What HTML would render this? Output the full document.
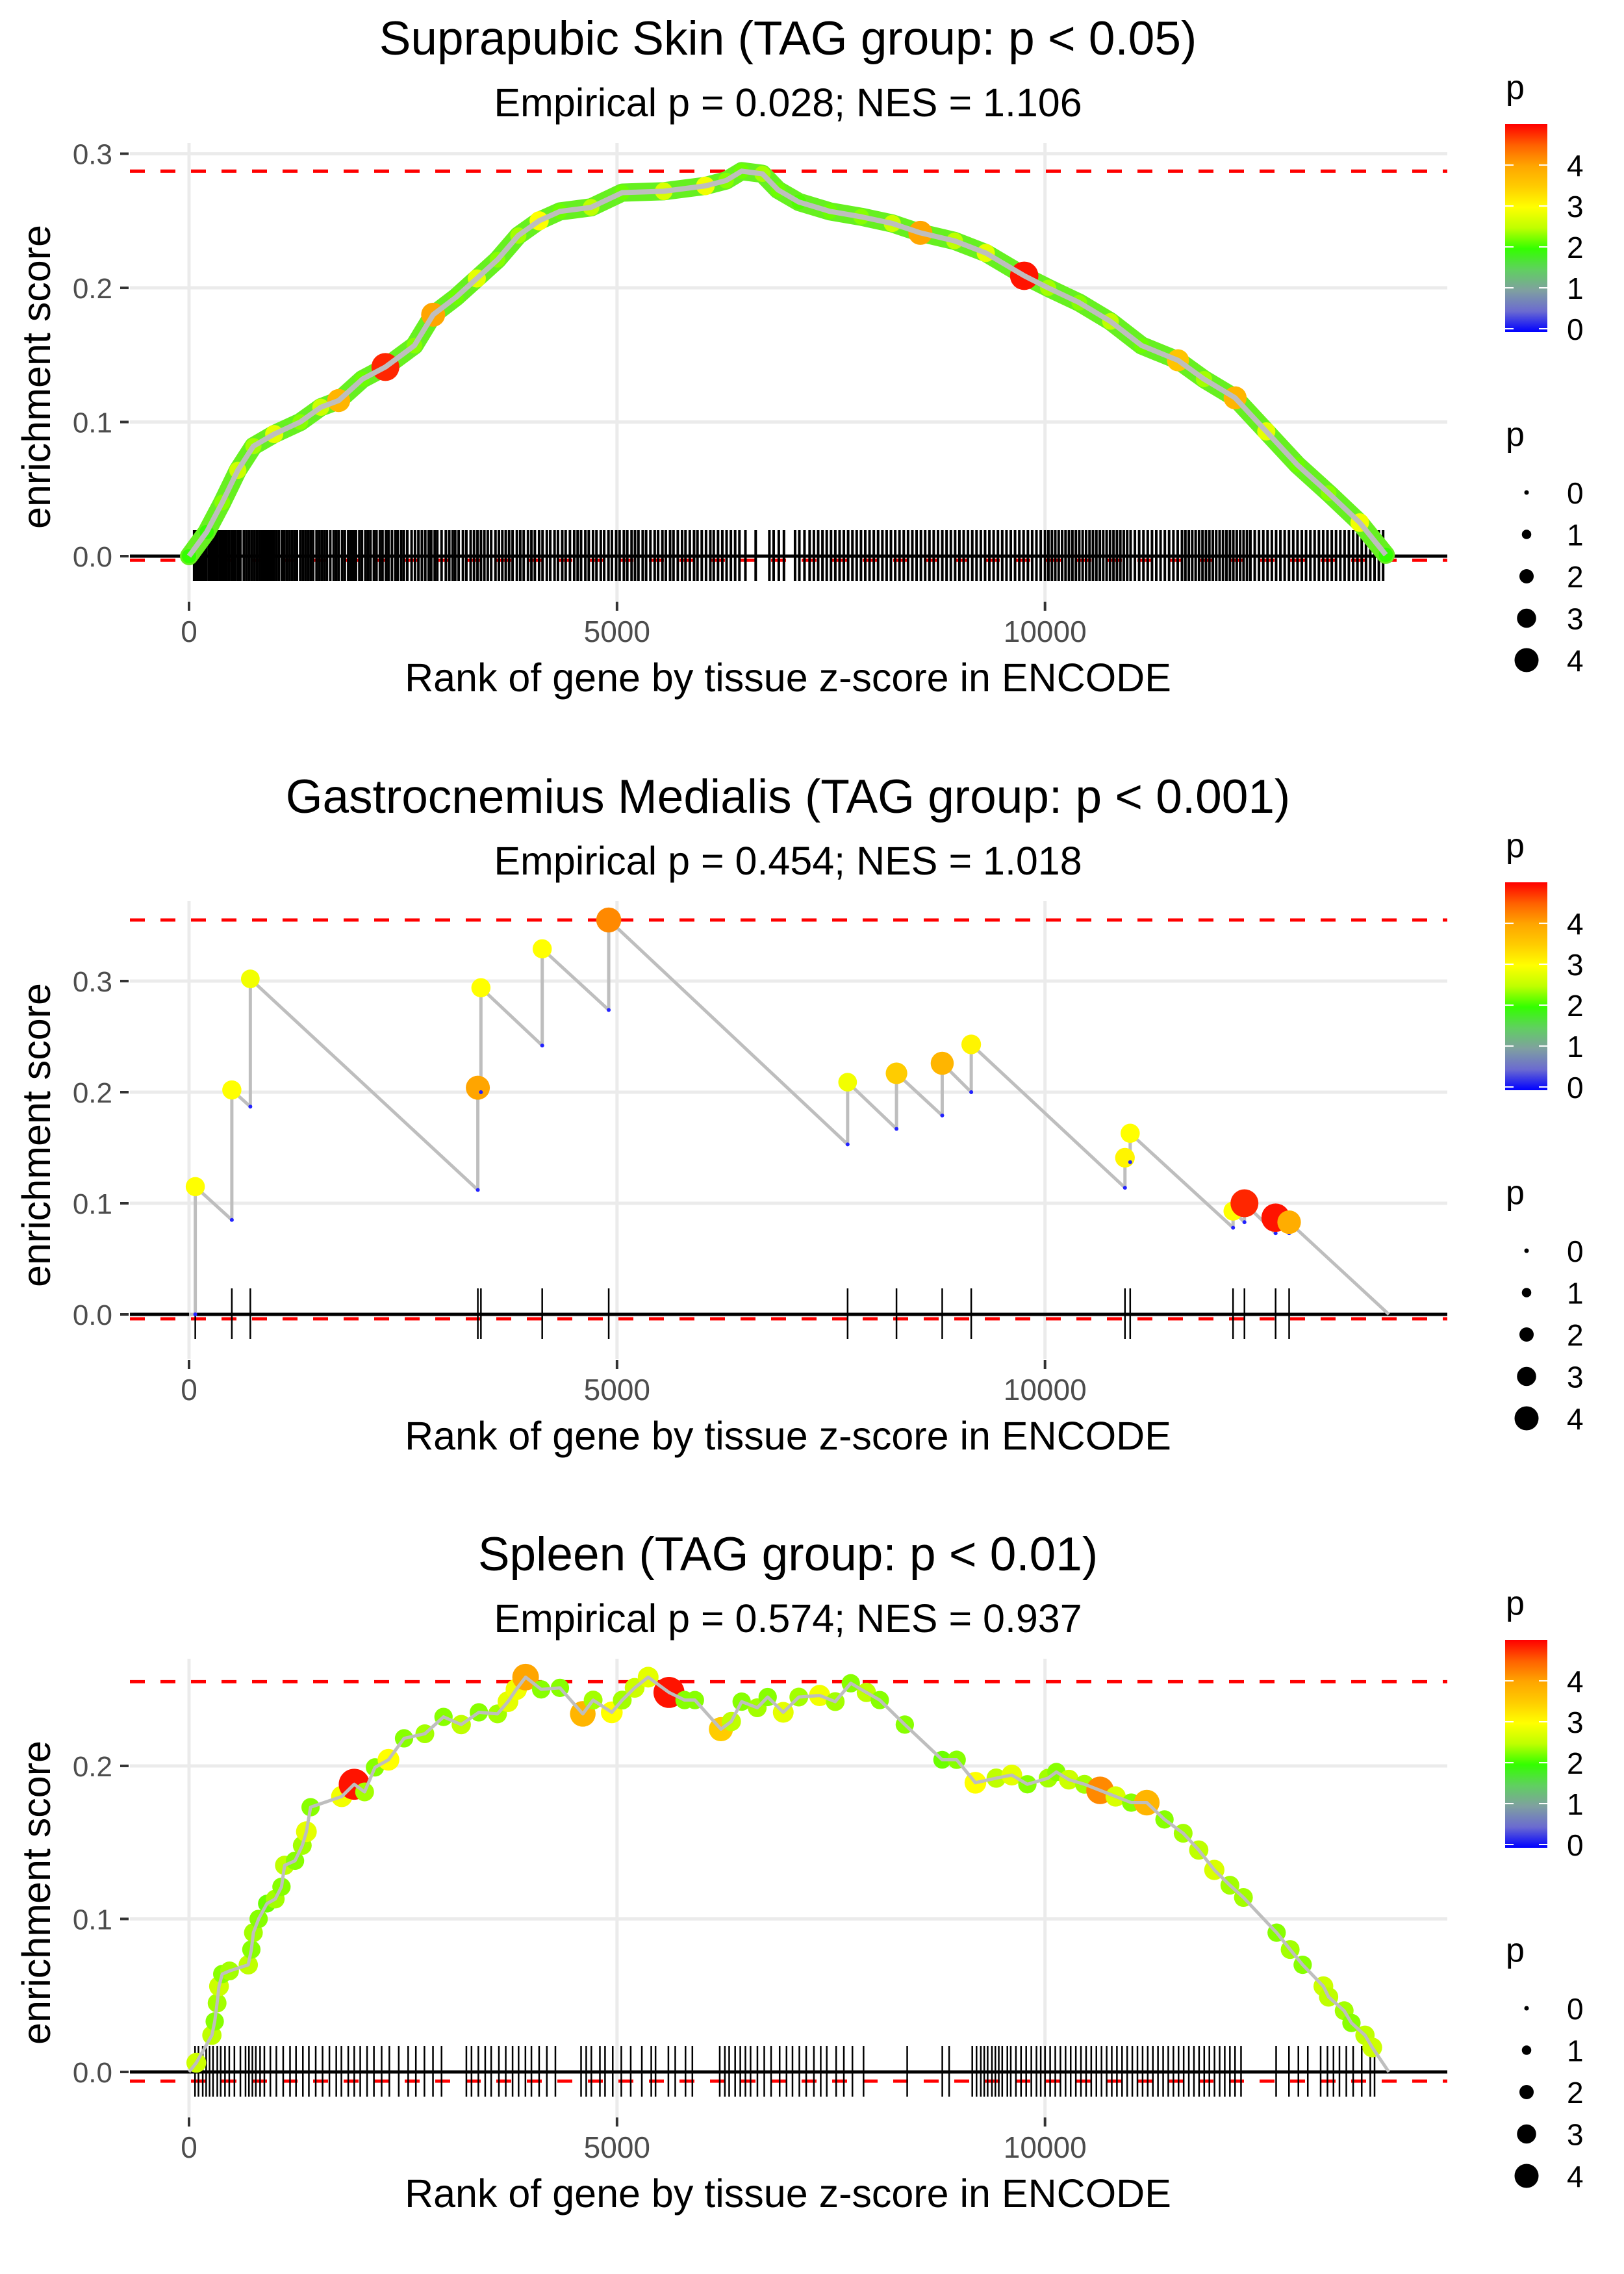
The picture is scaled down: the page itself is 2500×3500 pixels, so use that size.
<!DOCTYPE html>
<html><head><meta charset="utf-8"><title>Enrichment plots</title>
<style>html,body{margin:0;padding:0;background:#fff;}svg{display:block;font-family:"Liberation Sans",Arial,sans-serif;}</style>
</head><body>
<svg id="chart" xmlns="http://www.w3.org/2000/svg" width="2500" height="3500" viewBox="0 0 2500 3500">
<defs>
<linearGradient id="pgrad" x1="0" y1="1" x2="0" y2="0">
<stop offset="0" stop-color="#0000ff"/><stop offset="0.1" stop-color="#6b6bd0"/><stop offset="0.2" stop-color="#7fa0a0"/><stop offset="0.3" stop-color="#60d060"/><stop offset="0.4" stop-color="#33ff00"/><stop offset="0.5" stop-color="#bfff00"/><stop offset="0.6" stop-color="#ffff00"/><stop offset="0.7" stop-color="#ffcc00"/><stop offset="0.8" stop-color="#ffa500"/><stop offset="0.9" stop-color="#ff6000"/><stop offset="1" stop-color="#ff0000"/>
</linearGradient>
</defs>
</svg>
<script>
// ---------- data ----------
const p1Titles = ["Suprapubic Skin (TAG group: p < 0.05)", "Empirical p = 0.028; NES = 1.106"];
const p2Titles = ["Gastrocnemius Medialis (TAG group: p < 0.001)", "Empirical p = 0.454; NES = 1.018"];
const p3Titles = ["Spleen (TAG group: p < 0.01)", "Empirical p = 0.574; NES = 0.937"];
const xTicks = [0, 5000, 10000];
const xTickLabels = ["0", "5000", "10000"];
const p1YTicks = [0, 0.1, 0.2, 0.3];
const p2YTicks = [0, 0.1, 0.2, 0.3];
const p3YTicks = [0, 0.1, 0.2];
const nGenes = 14017;
const p1Max = 0.287, p1Min = -0.003;
const p2Max = 0.355, p2Min = -0.004;
const p3Max = 0.255, p3Min = -0.006;

// Panel 1 curve
const p1Rank = [0,206,388,570,752,995,1300,1540,1748,2027,2294,2633,2852,3119,3362,3604,3847,4090,4333,4697,5061,5546,6032,6274,6456,6699,6881,7124,7488,7852,8216,8544,8944,9308,9757,10036,10400,10765,11129,11553,11857,12221,12585,12949,13313,13677,13981];
const p1ES = [0,0.018,0.040,0.064,0.082,0.091,0.100,0.111,0.116,0.132,0.141,0.157,0.180,0.193,0.207,0.221,0.239,0.250,0.257,0.260,0.271,0.272,0.276,0.280,0.287,0.285,0.273,0.264,0.257,0.253,0.248,0.241,0.235,0.226,0.209,0.200,0.189,0.175,0.157,0.146,0.132,0.118,0.093,0.068,0.047,0.025,0.001];
const p1P = [2.0,2.0,2.3,2.6,2.4,2.8,2.3,2.6,3.8,2.2,4.8,2.3,4.0,2.2,2.8,2.3,2.4,3.0,2.2,2.5,2.2,2.7,2.9,2.3,2.2,2.4,2.2,2.1,2.2,2.3,2.6,4.0,2.5,2.8,4.9,2.4,2.3,2.5,2.2,3.6,2.4,3.8,2.8,2.2,2.3,2.9,2.0];
const p1Rug = [60,85,110,130,150,175,200,230,255,280,300,330,360,385,410,440,470,500,520,545,575,600,640,670,700,730,760,790,820,850,880,905,930,960,990,1020,1050,1085,1110,1140,1170,1200,1230,1260,1300,1330,1360,1390,1420,1450,1490,1520,1550,1580,1610,1650,1690,1720,1750,1790,1820,1860,1890,1920,1950,1990,2020,2060,2090,2120,2160,2190,2230,2260,2300,2330,2370,2410,2440,2480,2510,2550,2600,2640,2680,2720,2760,2800,2830,2870,2900,2950,3000,3040,3080,3110,3150,3200,3240,3290,3330,3370,3410,3450,3490,3530,3580,3620,3660,3700,3740,3780,3830,3870,3910,3960,4000,4040,4090,4130,4180,4220,4270,4310,4360,4400,4450,4500,4540,4580,4630,4670,4720,4760,4810,4850,4900,4940,4990,5030,5080,5120,5170,5210,5250,5300,5340,5390,5440,5480,5530,5570,5620,5660,5710,5760,5800,5850,5900,5940,5990,6040,6090,6130,6180,6230,6280,6330,6380,6430,6500,6620,6780,6830,6890,6950,7080,7130,7190,7250,7300,7350,7400,7450,7500,7550,7600,7650,7700,7750,7800,7850,7900,7950,8000,8050,8100,8150,8200,8250,8300,8350,8400,8450,8500,8550,8600,8650,8700,8750,8800,8850,8900,8950,9000,9050,9100,9150,9200,9250,9300,9350,9400,9450,9500,9550,9600,9650,9700,9750,9800,9850,9900,9950,10000,10040,10080,10120,10160,10200,10240,10280,10320,10360,10400,10440,10480,10520,10560,10600,10640,10680,10720,10760,10800,10840,10880,10920,10960,11000,11050,11100,11150,11200,11250,11300,11350,11400,11450,11500,11550,11600,11640,11680,11720,11760,11800,11840,11880,11920,11960,12000,12040,12080,12120,12160,12200,12240,12280,12320,12360,12400,12450,12500,12550,12600,12650,12700,12750,12800,12850,12900,12950,13000,13050,13100,13150,13200,13250,13300,13350,13400,13450,13500,13550,13600,13650,13700,13750,13800,13850,13900,13950];

// Panel 2 hits
const p2Rank = [73,500,716,3374,3410,4126,4903,7694,8265,8799,9138,10934,10995,12197,12330,12694,12852];
const p2Low = [0.0,0.085,0.187,0.112,0.200,0.242,0.274,0.153,0.167,0.179,0.200,0.114,0.137,0.078,0.083,0.073,0.073];
const p2High = [0.115,0.202,0.302,0.204,0.294,0.329,0.355,0.209,0.217,0.226,0.243,0.141,0.163,0.093,0.100,0.087,0.083];
const p2P = [3.0,3.0,2.9,4.0,3.0,3.0,4.2,2.9,3.5,3.8,3.1,3.1,3.0,3.0,4.8,4.9,3.9];

// Panel 3 curve
const p3Rank = [0,85,267,300,328,350,388,473,692,728,752,813,910,1007,1080,1117,1238,1323,1371,1420,1784,1930,2051,2172,2330,2512,2755,2973,3180,3386,3604,3726,3823,3932,4114,4333,4600,4721,4939,5061,5206,5364,5607,5789,5910,6214,6335,6456,6638,6760,6942,7124,7367,7549,7731,7913,8070,8362,8799,8968,9187,9430,9612,9794,10036,10133,10279,10461,10643,10825,11007,11189,11396,11614,11796,11978,12160,12318,12706,12864,13010,13252,13313,13495,13580,13738,13823,14017];
const p3ES = [0,0.006,0.024,0.033,0.045,0.056,0.064,0.066,0.070,0.080,0.091,0.100,0.110,0.113,0.121,0.135,0.138,0.148,0.157,0.173,0.180,0.188,0.183,0.199,0.204,0.218,0.221,0.232,0.227,0.235,0.234,0.242,0.250,0.258,0.250,0.251,0.234,0.243,0.235,0.243,0.251,0.258,0.248,0.243,0.243,0.224,0.229,0.242,0.238,0.245,0.235,0.245,0.246,0.242,0.254,0.248,0.243,0.227,0.204,0.204,0.189,0.192,0.194,0.188,0.192,0.196,0.191,0.188,0.184,0.180,0.176,0.176,0.165,0.156,0.145,0.132,0.122,0.114,0.091,0.080,0.070,0.056,0.049,0.040,0.032,0.024,0.016,0.0];
const p3P = [0,2.6,2.5,2.3,2.4,2.6,2.3,2.4,2.5,2.3,2.4,2.3,2.2,2.4,2.3,2.5,2.3,2.4,2.8,2.3,2.9,4.9,2.4,2.3,3.0,2.3,2.4,2.3,2.5,2.3,2.4,2.8,2.9,4.0,2.3,2.3,3.8,2.4,3.0,2.4,2.6,2.8,4.9,2.3,2.3,3.5,2.5,2.3,2.4,2.3,2.8,2.4,2.9,2.4,2.3,2.5,2.3,2.3,2.2,2.3,3.0,2.5,2.8,2.3,2.4,2.3,2.6,2.4,4.2,2.7,2.3,3.8,2.3,2.4,2.5,2.7,2.4,2.4,2.3,2.4,2.3,2.6,2.5,2.4,2.3,2.5,2.6,0];
const p3Rug = [70,110,160,200,240,280,330,370,420,470,530,600,660,700,740,780,830,880,950,1020,1100,1180,1250,1330,1400,1480,1560,1640,1720,1780,1860,1930,2000,2080,2160,2250,2340,2450,2560,2650,2750,2850,2950,3240,3300,3380,3460,3530,3620,3700,3780,3850,3930,4000,4090,4180,4280,4580,4640,4700,4800,4860,4950,5050,5160,5290,5400,5450,5600,5680,5800,5880,6200,6260,6310,6380,6440,6500,6560,6640,6720,6800,6900,6980,7050,7130,7210,7300,7380,7450,7560,7650,7750,7880,8390,8800,8880,9150,9200,9250,9290,9330,9380,9420,9460,9500,9560,9600,9660,9720,9780,9840,9900,9950,10000,10060,10120,10180,10240,10300,10360,10420,10480,10540,10600,10660,10720,10780,10840,10900,10960,11020,11080,11140,11200,11260,11320,11380,11440,11500,11560,11620,11680,11740,11800,11860,11920,11980,12040,12100,12160,12220,12290,12700,12850,12960,13070,13220,13300,13370,13440,13520,13600,13700,13800,13850];

const legendTicks = [0, 1, 2, 3, 4];

// ---------- helpers ----------
const NS = "http://www.w3.org/2000/svg";
const svg = document.getElementById("chart");
function mk(tag, attrs, parent) {
  const e = document.createElementNS(NS, tag);
  for (const k in attrs) e.setAttribute(k, attrs[k]);
  (parent || svg).appendChild(e);
  return e;
}
const stops = [[0,[0,0,255]],[0.5,[107,107,208]],[1,[127,160,160]],[1.5,[96,208,96]],[2,[51,255,0]],[2.5,[191,255,0]],[3,[255,255,0]],[3.5,[255,204,0]],[4,[255,165,0]],[4.5,[255,96,0]],[5,[255,0,0]]];
function pColor(p) {
  p = Math.max(0, Math.min(5, p));
  for (let i = 0; i < stops.length - 1; i++) {
    const a = stops[i], b = stops[i+1];
    if (p <= b[0]) {
      const t = (p - a[0]) / (b[0] - a[0]);
      const c = a[1].map((v, j) => Math.round(v + (b[1][j] - v) * t));
      return "rgb(" + c.join(",") + ")";
    }
  }
  return "rgb(255,0,0)";
}
function pDiam(p) { return 7 + 7.5 * p; }
const X0 = 291, XK = 0.13177;
function xScale(r) { return X0 + r * XK; }
const PLOT_L = 200, PLOT_R = 2228;
const TITLE_X = 1213;

function drawPanel(off, ymax, title, yTicks, maxES, minES, name) {
  const Y0 = off + 856;
  const YK = (856 - 250) / ymax;
  const yScale = v => Y0 - v * YK;
  const g = mk("g", {});
  
  
  const t = mk("text", {x: TITLE_X, y: off + 84, "font-size": 73, "text-anchor": "middle", fill: "#000"}, g);
  
  
  t.textContent = title[0];
  const st = mk("text", {x: TITLE_X, y: off + 179, "font-size": 61, "text-anchor": "middle", fill: "#000"}, g);
  
  
  st.textContent = title[1];
  yTicks.forEach(v => {
    const l = mk("line", {x1: PLOT_L, x2: PLOT_R, y1: yScale(v), y2: yScale(v), stroke: "#ebebeb", "stroke-width": 5}, g);
    
    
    const tk = mk("line", {x1: 185, x2: 198, y1: yScale(v), y2: yScale(v), stroke: "#333", "stroke-width": 4}, g);
    
    
    const lb = mk("text", {x: 173, y: yScale(v) + 16, "font-size": 44, "text-anchor": "end", fill: "#4d4d4d"}, g);
    
    
    lb.textContent = v.toFixed(1);
  });
  xTicks.forEach((v, i) => {
    const l = mk("line", {x1: xScale(v), x2: xScale(v), y1: off + 220, y2: off + 925, stroke: "#ebebeb", "stroke-width": 5}, g);
    
    
    const tk = mk("line", {x1: xScale(v), x2: xScale(v), y1: off + 926, y2: off + 940, stroke: "#333", "stroke-width": 4}, g);
    
    
    const lb = mk("text", {x: xScale(v), y: off + 988, "font-size": 46, "text-anchor": "middle", fill: "#4d4d4d"}, g);
    
    
    lb.textContent = xTickLabels[i];
  });
  const xt = mk("text", {x: TITLE_X, y: off + 1064, "font-size": 61, "text-anchor": "middle", fill: "#000"}, g);
  
  
  xt.textContent = "Rank of gene by tissue z-score in ENCODE";
  const yt = mk("text", {x: 0, y: 0, "font-size": 61, "text-anchor": "middle", fill: "#000", transform: "translate(77," + (off + 580) + ") rotate(-90)"}, g);
  
  
  yt.textContent = "enrichment score";
  [maxES, minES].forEach(v => {
    const d = mk("line", {x1: PLOT_L, x2: PLOT_R, y1: yScale(v), y2: yScale(v), stroke: "#ff0000", "stroke-width": 5, "stroke-dasharray": "23 24"}, g);
    
    
  });
  return {g, yScale, Y0};
}

function drawRug(P, ranks, w) {
  const rg = mk("g", {stroke: "#000", "stroke-width": w}, P.g);
  
  
  ranks.forEach(r => {
    const l = mk("line", {x1: xScale(r), x2: xScale(r), y1: P.Y0 - 40, y2: P.Y0 + 38}, rg);
    
    
  });
}
function drawZero(P) {
  const z = mk("line", {x1: PLOT_L, x2: PLOT_R, y1: P.Y0, y2: P.Y0, stroke: "#000", "stroke-width": 5}, P.g);
  
  
}
function drawLegend(off) {
  const g = mk("g", {});
  
  
  const t1 = mk("text", {x: 2318, y: off + 152, "font-size": 52, fill: "#000"}, g);
  
  
  t1.textContent = "p";
  const top = off + 191, bot = off + 511;
  const bar = mk("rect", {x: 2317, y: top, width: 65, height: bot - top, fill: "url(#pgrad)"}, g);
  
  
  legendTicks.forEach(v => {
    const y = bot - 5 - v * (bot - 5 - (top + 0.02 * (bot - top))) / 4.9;
    mk("line", {x1: 2317, x2: 2330, y1: y, y2: y, stroke: "#fff", "stroke-width": 2}, g);
    mk("line", {x1: 2369, x2: 2382, y1: y, y2: y, stroke: "#fff", "stroke-width": 2}, g);
    const lb = mk("text", {x: 2412, y: y + 17, "font-size": 46, fill: "#000"}, g);
    
    
    lb.textContent = v;
  });
  const t2 = mk("text", {x: 2318, y: off + 686, "font-size": 52, fill: "#000"}, g);
  
  
  t2.textContent = "p";
  legendTicks.forEach((v, i) => {
    const y = off + 758 + i * 64.5;
    const c = mk("circle", {cx: 2350, cy: y, r: pDiam(v) / 2, fill: "#000"}, g);
    
    
    const lb = mk("text", {x: 2412, y: y + 17, "font-size": 46, fill: "#000"}, g);
    
    
    lb.textContent = v;
  });
}

// ---------- Panel 1 ----------
{
  const P = drawPanel(0, 0.2935, p1Titles, p1YTicks, p1Max, p1Min, "panel-suprapubic-skin");
  drawRug(P, p1Rug, 4);
  drawZero(P);
  const pts = p1Rank.map((r, i) => xScale(r) + "," + P.yScale(p1ES[i])).join(" ");
  const under = mk("polyline", {points: pts, fill: "none", stroke: "#66f020", "stroke-width": 28, "stroke-linejoin": "round", "stroke-linecap": "round"}, P.g);
  
  
  p1Rank.forEach((r, i) => {
    const c = mk("circle", {cx: xScale(r), cy: P.yScale(p1ES[i]), r: pDiam(p1P[i]) / 2, fill: pColor(p1P[i])}, P.g);
    
    
  });
  const line = mk("polyline", {points: pts, fill: "none", stroke: "#bebebe", "stroke-width": 8, "stroke-linejoin": "round"}, P.g);
  
  
  drawLegend(0);
}

// ---------- Panel 2 ----------
{
  const off = 1167;
  const P = drawPanel(off, 0.3544, p2Titles, p2YTicks, p2Max, p2Min, "panel-gastrocnemius");
  drawRug(P, p2Rank, 2.5);
  drawZero(P);
  let d = "M" + xScale(0) + "," + P.yScale(0);
  p2Rank.forEach((r, i) => {
    d += " L" + xScale(r) + "," + P.yScale(p2Low[i]) + " L" + xScale(r) + "," + P.yScale(p2High[i]);
  });
  d += " L" + xScale(nGenes) + "," + P.yScale(0);
  const line = mk("path", {d: d, fill: "none", stroke: "#bebebe", "stroke-width": 5, "stroke-linejoin": "round"}, P.g);
  
  
  p2Rank.forEach((r, i) => {
    const lo = mk("circle", {cx: xScale(r), cy: P.yScale(p2Low[i]), r: 3, fill: "#2222ff"}, P.g);
    
    
    const c = mk("circle", {cx: xScale(r), cy: P.yScale(p2High[i]), r: pDiam(p2P[i]) / 2, fill: pColor(p2P[i])}, P.g);
    
    
  });
  drawLegend(off);
}

// ---------- Panel 3 ----------
{
  const off = 2333;
  const P = drawPanel(off, 0.2573, p3Titles, p3YTicks, p3Max, p3Min, "panel-spleen");
  drawRug(P, p3Rug, 2.5);
  drawZero(P);
  const pts = p3Rank.map((r, i) => xScale(r) + "," + P.yScale(p3ES[i])).join(" ");
  p3Rank.forEach((r, i) => {
    if (p3P[i] <= 0) return;
    const c = mk("circle", {cx: xScale(r), cy: P.yScale(p3ES[i]), r: pDiam(p3P[i]) / 2 + 2, fill: pColor(p3P[i])}, P.g);
    
    
  });
  const line = mk("polyline", {points: pts, fill: "none", stroke: "#bebebe", "stroke-width": 5, "stroke-linejoin": "round"}, P.g);
  
  
  drawLegend(off);
}
</script>
</body></html>
